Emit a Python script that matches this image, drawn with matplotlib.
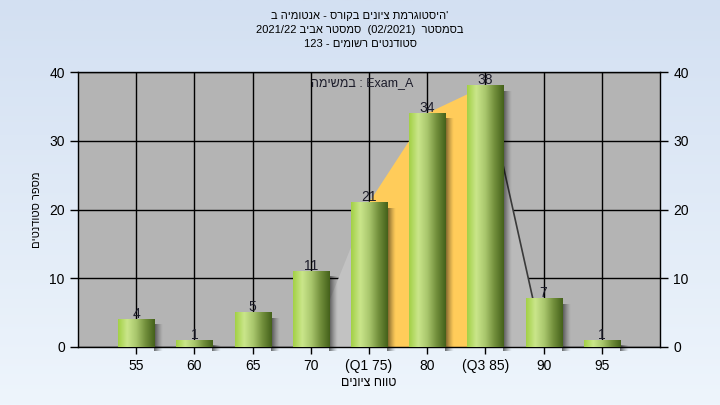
from matplotlib import pyplot as plt
from matplotlib.colors import LinearSegmentedColormap
from matplotlib.patches import Polygon
import numpy as np

plt.rcParams['font.family'] = ['Liberation Sans', 'DejaVu Sans']

# data
grade_labels = ['55', '60', '65', '70', '(Q1 75)', '80', '(Q3 85)', '90', '95']
students = [4, 1, 5, 11, 21, 34, 38, 7, 1]

# the curve behind the bars (starts and ends on the baseline)
curve_x = [3, 4, 5, 6, 7]
curve_y = [0, 21, 34, 38, 0]

# hebrew text, flipped to visual order (matplotlib has no bidi)
def heb(s):
    return s[::-1]

title1 = heb('היסטוגרמת ציונים בקורס - אנטומיה ב') + "'"
title2 = '2021/22 ' + heb('סמסטר אביב') + '  (02/2021)  ' + heb('בסמסטר')
title3 = '123 - ' + heb('סטודנטים רשומים')
xlabel = heb('טווח ציונים')
ylabel = heb('מספר סטודנטים')
note = heb('במשימה') + ' : Exam_A'

fig = plt.figure(figsize=(7.2, 4.05), dpi=100)

# light blue gradient background
bg = fig.add_axes([0, 0, 1, 1], zorder=-5)
bg_cmap = LinearSegmentedColormap.from_list('bg', ['#eef5fc', '#d3e0f2'])
bg.imshow(np.linspace(0, 1, 256).reshape(-1, 1), cmap=bg_cmap, aspect='auto',
          origin='lower', extent=[0, 1, 0, 1])
bg.axis('off')

ax = fig.add_axes([78/720, 1-347/405, 582/720, 275/405])
ax.set_facecolor('#b4b4b4')

x = np.arange(len(students))
width = 0.62

# area under the curve: gray left part, orange between Q1 and Q3, gray right part
left_part = [(curve_x[0], 0)] + list(zip(curve_x[:2], curve_y[:2])) + [(curve_x[1], 0)]
mid_part = [(curve_x[1], 0)] + list(zip(curve_x[1:4], curve_y[1:4])) + [(curve_x[3], 0)]
right_part = [(curve_x[3], 0)] + list(zip(curve_x[3:], curve_y[3:]))
ax.add_patch(Polygon(left_part, closed=True, fc='#c2c2c2', ec='none', zorder=1))
ax.add_patch(Polygon(mid_part, closed=True, fc='#ffcc5a', ec='none', zorder=1))
ax.add_patch(Polygon(right_part, closed=True, fc='#bababa', ec='none', zorder=1))
ax.plot(curve_x[3:], curve_y[3:], color='#3a3a3a', lw=1.2, zorder=1.5)

# bars with a cylinder-like gradient and a soft shadow on the right
bar_cmap = LinearSegmentedColormap.from_list(
    'bar', ['#a2d044', '#cae68b', '#a8c66c', '#718e3b', '#44601a'])
grad = np.linspace(0, 1, 256).reshape(1, -1)
shadow = np.zeros((1, 64, 4))
shadow[0, :, 3] = np.linspace(0.65, 0.0, 64) ** 1.3
for xi, h in zip(x, students):
    x0 = xi - width / 2
    ax.imshow(shadow, aspect='auto', extent=[x0 + width, x0 + width + 0.14, -0.6, h - 0.8],
              interpolation='bilinear', zorder=2.5, clip_on=False)
    ax.imshow(grad, cmap=bar_cmap, aspect='auto', extent=[x0, x0 + width, 0, h],
              interpolation='bicubic', zorder=3)
    ax.annotate(str(h), (xi, h), xytext=(0, -1), textcoords='offset points',
                ha='center', va='bottom', fontsize=10, color='#1c1c2a', zorder=4)

ax.set_xlim(-1, len(students))
ax.set_ylim(0, 40)
ax.set_xticks(x)
ax.set_xticklabels(grade_labels, fontsize=10)
ax.set_yticks([0, 10, 20, 30, 40])
ax.tick_params(axis='y', direction='out', length=6, left=True, right=True,
               labelleft=True, labelright=True, labelsize=10, width=1)
ax.tick_params(axis='x', direction='out', length=5, width=1, labelsize=10)
ax.grid(True, color='black', lw=1)
ax.set_axisbelow(True)
for s in ax.spines.values():
    s.set_color('black')
    s.set_linewidth(1)

ax.set_xlabel(xlabel, fontsize=9, labelpad=3)
ax.set_ylabel(ylabel, fontsize=8, labelpad=5)

ax.text(0.576, 0.96, note, transform=ax.transAxes, ha='right', va='center',
        fontsize=9, color='#1c1c2a')

fig.text(0.5, 1-16/405, title1, ha='center', va='center', fontsize=8)
fig.text(0.5, 1-30/405, title2, ha='center', va='center', fontsize=8)
fig.text(0.5, 1-44/405, title3, ha='center', va='center', fontsize=8)

plt.savefig('out.png', dpi=100)
